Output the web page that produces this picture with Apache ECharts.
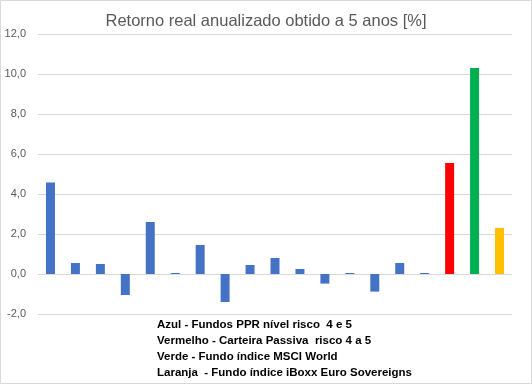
<!DOCTYPE html>
<html><head><meta charset="utf-8">
<script src="https://cdn.jsdelivr.net/npm/echarts@6/dist/echarts.min.js"></script>
<style>html,body{margin:0;padding:0;background:#fff}#c{width:532px;height:384px}</style>
</head><body><div id="c"></div>
<script>
var categories = ['1','2','3','4','5','6','7','8','9','10','11','12','13','14','15','16','17','18','19'];
var values = [4.57, 0.55, 0.5, -1.05, 2.6, 0.05, 1.45, -1.4, 0.45, 0.8, 0.25, -0.48, 0.05, -0.88, 0.55, 0.05, 5.55, 10.3, 2.3];
var colors = ['#4472C4','#4472C4','#4472C4','#4472C4','#4472C4','#4472C4','#4472C4','#4472C4','#4472C4','#4472C4','#4472C4','#4472C4','#4472C4','#4472C4','#4472C4','#4472C4','#FF0000','#00B050','#FFC000'];
var legendLines = ['Azul - Fundos PPR nível risco  4 e 5','Vermelho - Carteira Passiva  risco 4 a 5','Verde - Fundo índice MSCI World','Laranja  - Fundo índice iBoxx Euro Sovereigns'];
var titleText = 'Retorno real anualizado obtido a 5 anos [%]';

var chart = echarts.init(document.getElementById('c'));
var graphics = [{type:'rect', shape:{x:0.5,y:0.5,width:531,height:383}, style:{fill:'none', stroke:'#d9d9d9', lineWidth:1}, silent:true}];
legendLines.forEach(function(t,i){
  graphics.push({type:'text', left:157, top:319+i*16, style:{text:t, fill:'#000', font:'bold 11.5px "Liberation Sans", Arial, sans-serif'}});
});
chart.setOption({
  animation:false,
  title:{text:titleText, left:'center', top:8, textStyle:{color:'#595959', fontSize:16.5, fontWeight:'normal', fontFamily:'"Liberation Sans", Arial, sans-serif'}},
  grid:{left:38, right:20, top:34, bottom:70, containLabel:false},
  xAxis:{type:'category', data:categories, axisLine:{show:false}, axisTick:{show:false}, axisLabel:{show:false}},
  yAxis:{type:'value', min:-2, max:12, interval:2,
    axisLabel:{formatter:function(v){return v.toFixed(1).replace('.',',');}, color:'#595959', fontSize:11, fontFamily:'"Liberation Sans", Arial, sans-serif', margin:12},
    splitLine:{lineStyle:{color:'#d9d9d9', width:1}}, axisLine:{show:false}, axisTick:{show:false}},
  series:[{type:'bar', data:values.map(function(v,i){return {value:v, itemStyle:{color:colors[i]}};}), barWidth:'36%'}],
  graphic:graphics
});
</script></body></html>
